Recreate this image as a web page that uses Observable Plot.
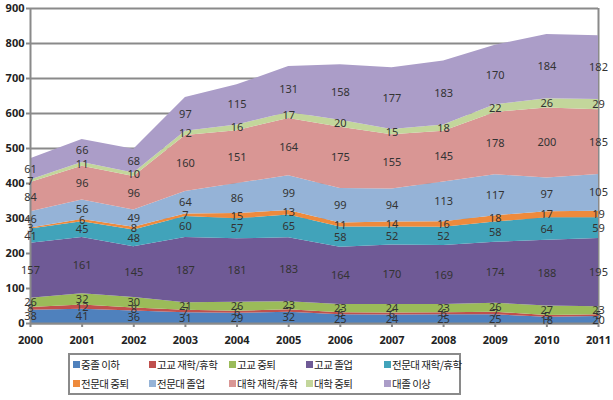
<!DOCTYPE html>
<html>
<head>
<meta charset="utf-8">
<script src="https://cdn.jsdelivr.net/npm/d3@7"></script>
<script src="https://cdn.jsdelivr.net/npm/@observablehq/plot@0.6"></script>
<style>
  body { margin: 0; background: #fff; font-family: "Noto Sans CJK KR", "DejaVu Sans", sans-serif; }
  #wrap { position: relative; width: 613px; height: 400px; }
  #legend {
    position: absolute; left: 68px; top: 353px; width: 393px; height: 42px;
    border: 2px solid #8a8a8a; box-sizing: border-box;
    display: grid; grid-template-columns: 76px 80px 77px 78px 76px; padding: 0 0 0 3px;
    font-size: 10.5px; letter-spacing: -0.5px; color: #222; line-height: 19px;
  }
  .item { white-space: nowrap; display: flex; align-items: center; overflow: visible; }
  .sw { display: inline-block; flex-shrink: 0; width: 7px; height: 7px; margin-right: 1px; }
</style>
</head>
<body>
<div id="wrap">
  <div id="chart"></div>
  <div id="legend"></div>
</div>
<script>
const years = [2000, 2001, 2002, 2003, 2004, 2005, 2006, 2007, 2008, 2009, 2010, 2011];
const seriesNames = ["중졸 이하", "고교 재학/휴학", "고교 중퇴", "고교 졸업", "전문대 재학/휴학", "전문대 중퇴", "전문대 졸업", "대학 재학/휴학", "대학 중퇴", "대졸 이상"];
const colors = ["#4F81BD", "#C0504D", "#9BBB59", "#6F5A96", "#41A3BA", "#EE8A3C", "#95B3D7", "#D99694", "#C3D69B", "#AB9DC8"];

const middleSchool = [38, 41, 36, 31, 29, 32, 25, 24, 25, 25, 18, 20];
const hsEnrolled   = [8, 12, 8, 7, 6, 7, 6, 6, 6, 7, 5, 5];
const hsDropout    = [26, 32, 30, 21, 26, 23, 23, 24, 23, 26, 27, 23];
const hsGrad       = [157, 161, 145, 187, 181, 183, 164, 170, 169, 174, 188, 195];
const jcEnrolled   = [41, 45, 48, 60, 57, 65, 58, 52, 52, 58, 64, 59];
const jcDropout    = [3, 6, 8, 7, 15, 13, 11, 14, 16, 18, 17, 19];
const jcGrad       = [46, 56, 49, 64, 86, 99, 99, 94, 113, 117, 97, 105];
const uniEnrolled  = [84, 96, 96, 160, 151, 164, 175, 155, 145, 178, 200, 185];
const uniDropout   = [7, 11, 10, 12, 16, 17, 20, 15, 18, 22, 26, 29];
const uniGrad      = [61, 66, 68, 97, 115, 131, 158, 177, 183, 170, 184, 182];
const yTicks = [0, 100, 200, 300, 400, 500, 600, 700, 800, 900];

const seriesValues = [middleSchool, hsEnrolled, hsDropout, hsGrad, jcEnrolled, jcDropout, jcGrad, uniEnrolled, uniDropout, uniGrad];
const data = [];
seriesNames.forEach((name, i) => {
  years.forEach((yr, j) => data.push({year: yr, series: name, value: seriesValues[i][j]}));
});

const grid = "#8a8a8a";
const chart = Plot.plot({
  width: 613,
  height: 352,
  marginLeft: 30,
  marginRight: 15,
  marginTop: 8,
  marginBottom: 29,
  style: {fontFamily: "'Noto Sans', 'DejaVu Sans', sans-serif", fontSize: "11px", color: "#222", background: "#fff"},
  x: {domain: [2000, 2011], ticks: years, tickFormat: d => String(d), label: null},
  y: {domain: [0, 900], ticks: yTicks, label: null},
  color: {domain: seriesNames, range: colors},
  marks: [
    Plot.ruleY(yTicks, {stroke: grid, strokeWidth: 2}),
    Plot.ruleX([2011], {stroke: grid, strokeWidth: 2}),
    Plot.areaY(data, Plot.stackY({x: "year", y: "value", z: "series", fill: "series", order: null})),
    Plot.ruleX([2000], {stroke: grid, strokeWidth: 2}),
    Plot.ruleY([0], {stroke: grid, strokeWidth: 2}),
    Plot.axisX({ticks: years, tickFormat: d => String(d), stroke: grid, strokeWidth: 2, fontWeight: "bold", fill: "#222", tickSize: 4, tickPadding: 9, label: null}),
    Plot.axisY({ticks: yTicks, stroke: grid, strokeWidth: 2, fontWeight: "bold", fill: "#222", tickSize: 4, tickPadding: 2, label: null}),
    Plot.text(data, Plot.stackY({x: "year", y: "value", z: "series", text: "value", order: null, fill: "#333", fontSize: 11}))
  ]
});
document.getElementById("chart").appendChild(chart);

const legend = document.getElementById("legend");
seriesNames.forEach((name, i) => {
  const it = document.createElement("div");
  it.className = "item";
  it.innerHTML = `<span class="sw" style="background:${colors[i]}"></span>${name}`;
  legend.appendChild(it);
});
</script>
</body>
</html>
